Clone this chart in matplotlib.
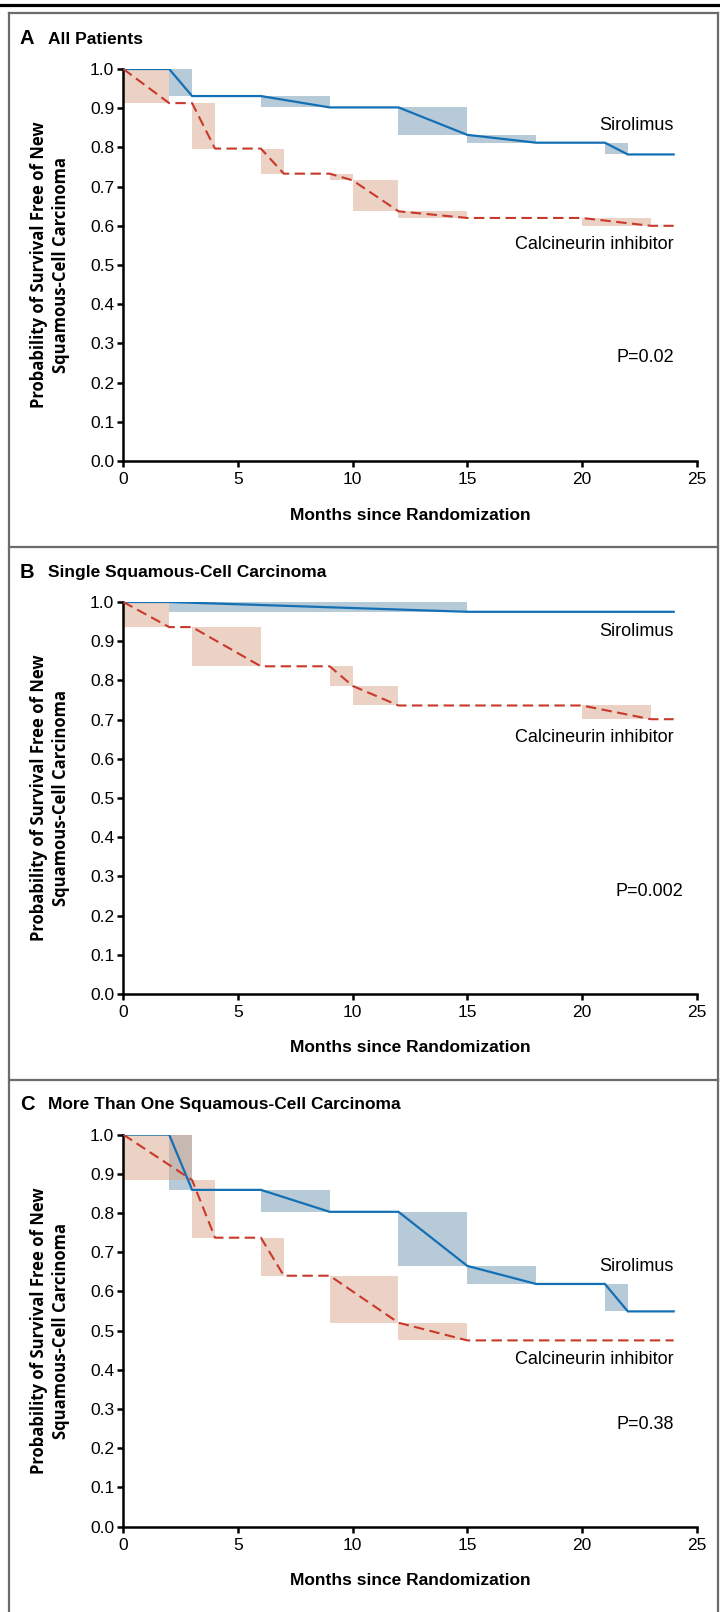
import matplotlib
matplotlib.use("Agg")
import matplotlib.pyplot as plt
from matplotlib.lines import Line2D

# panel titles and annotations
panel_letters = ["A", "B", "C"]
panel_titles = ["All Patients", "Single Squamous-Cell Carcinoma",
                "More Than One Squamous-Cell Carcinoma"]
p_values = ["P=0.02", "P=0.002", "P=0.38"]

# A: all patients
a_siro_t = [0, 2, 3, 6, 9, 12, 15, 18, 21, 22, 24]
a_siro_s = [1.0, 1.0, 0.931, 0.931, 0.902, 0.902, 0.832, 0.812, 0.812, 0.782, 0.782]
a_cni_t = [0, 2, 3, 4, 6, 7, 9, 10, 12, 15, 20, 23, 24]
a_cni_s = [1.0, 0.913, 0.913, 0.797, 0.797, 0.733, 0.733, 0.716, 0.637, 0.62, 0.62, 0.60, 0.60]

# B: single SCC
b_siro_t = [0, 2, 15, 24]
b_siro_s = [1.0, 1.0, 0.975, 0.975]
b_cni_t = [0, 2, 3, 6, 9, 10, 12, 20, 23, 24]
b_cni_s = [1.0, 0.936, 0.936, 0.836, 0.836, 0.786, 0.736, 0.736, 0.701, 0.701]

# C: more than one SCC
c_siro_t = [0, 2, 3, 6, 9, 12, 15, 18, 21, 22, 24]
c_siro_s = [1.0, 1.0, 0.859, 0.859, 0.803, 0.803, 0.665, 0.619, 0.619, 0.549, 0.549]
c_cni_t = [0, 3, 4, 6, 7, 9, 12, 15, 24]
c_cni_s = [1.0, 0.884, 0.737, 0.737, 0.640, 0.640, 0.520, 0.475, 0.475]

# label heights (y, data units) : sirolimus, calcineurin, p value
label_y = [(0.857, 0.552, 0.263), (0.925, 0.655, 0.261), (0.664, 0.427, 0.26)]
p_x = [24, 24.4, 24]

curves = [(a_siro_t, a_siro_s, a_cni_t, a_cni_s),
          (b_siro_t, b_siro_s, b_cni_t, b_cni_s),
          (c_siro_t, c_siro_s, c_cni_t, c_cni_s)]

W, H = 720, 1612
plt.rcParams['font.family'] = ["Liberation Sans", "DejaVu Sans"]
ylab_font = ["Open Sans", "DejaVu Sans"]

blue = "#1470b5"
red = "#c8392b"
blue_fill = "#6f97b1"
red_fill = "#d9a78d"

fig = plt.figure(figsize=(W / 100, H / 100), dpi=100)

def fy(y):
    return 1 - y / H

ax_left = 123.3
ax_right = 696.6
tops = [69, 602, 1134.6]
ax_h = 392

def shade(ax, t, s, col):
    for i in range(len(t) - 1):
        if s[i] != s[i + 1]:
            ax.fill_between([t[i], t[i + 1]], [s[i + 1]] * 2, [s[i]] * 2,
                            color=col, alpha=0.5, lw=0, zorder=1)

for k in range(3):
    top = tops[k]
    ax = fig.add_axes([ax_left / W, fy(top + ax_h), (ax_right - ax_left) / W, ax_h / H])
    st, ss, ct, cs = curves[k]
    shade(ax, st, ss, blue_fill)
    shade(ax, ct, cs, red_fill)
    ax.plot(st, ss, color=blue, lw=1.6, zorder=3, solid_joinstyle='miter')
    ax.plot(ct, cs, color=red, lw=1.5, dashes=(5, 2.6), zorder=3)

    ax.set_xlim(0, 25)
    ax.set_ylim(0, 1.0)
    ax.set_xticks([0, 5, 10, 15, 20, 25])
    ax.set_yticks([i / 10 for i in range(11)])
    ax.set_yticklabels(["%.1f" % (i / 10) for i in range(11)])
    for sp in ["top", "right"]:
        ax.spines[sp].set_visible(False)
    for sp in ["left", "bottom"]:
        ax.spines[sp].set_linewidth(1.8)
    ax.tick_params(width=1.8, length=4.5, labelsize=12.5, direction='out')
    ax.tick_params(axis='y', pad=2)
    ax.tick_params(axis='x', pad=3.5)
    ax.patch.set_alpha(0)

    ly = label_y[k]
    ax.text(24, ly[0], "Sirolimus", ha='right', va='center', fontsize=13)
    ax.text(24, ly[1], "Calcineurin inhibitor", ha='right', va='center', fontsize=13)
    ax.text(p_x[k], ly[2], p_values[k], ha='right', va='center', fontsize=13)

    # panel title
    fig.text(20 / W, fy(top - 30), panel_letters[k], ha='left', va='center',
             fontsize=14.5, fontweight='bold')
    fig.text(48 / W, fy(top - 30), panel_titles[k], ha='left', va='center',
             fontsize=12.5, fontweight='bold')

    # axis labels
    fig.text((ax_left + ax_right) / 2 / W, fy(top + ax_h + 54), "Months since Randomization",
             ha='center', va='center', fontsize=12.5, fontweight='bold')
    fig.text(50 / W, fy(top + ax_h / 2), "Probability of Survival Free of New\nSquamous-Cell Carcinoma",
             ha='center', va='center', rotation=90, fontsize=12, fontweight='bold',
             linespacing=1.3, family=ylab_font)

# frame lines
grey = "#6b6b6b"
fig.add_artist(Line2D([0, 1], [fy(5), fy(5)], color="black", lw=2.3))
for x in [8.5, 717.5]:
    fig.add_artist(Line2D([x / W, x / W], [fy(12.5), 0], color=grey, lw=1.6))
for y in [12.5, 547, 1080]:
    fig.add_artist(Line2D([8.5 / W, 717.5 / W], [fy(y), fy(y)], color=grey, lw=1.6))

fig.savefig("out.png", dpi=100)
